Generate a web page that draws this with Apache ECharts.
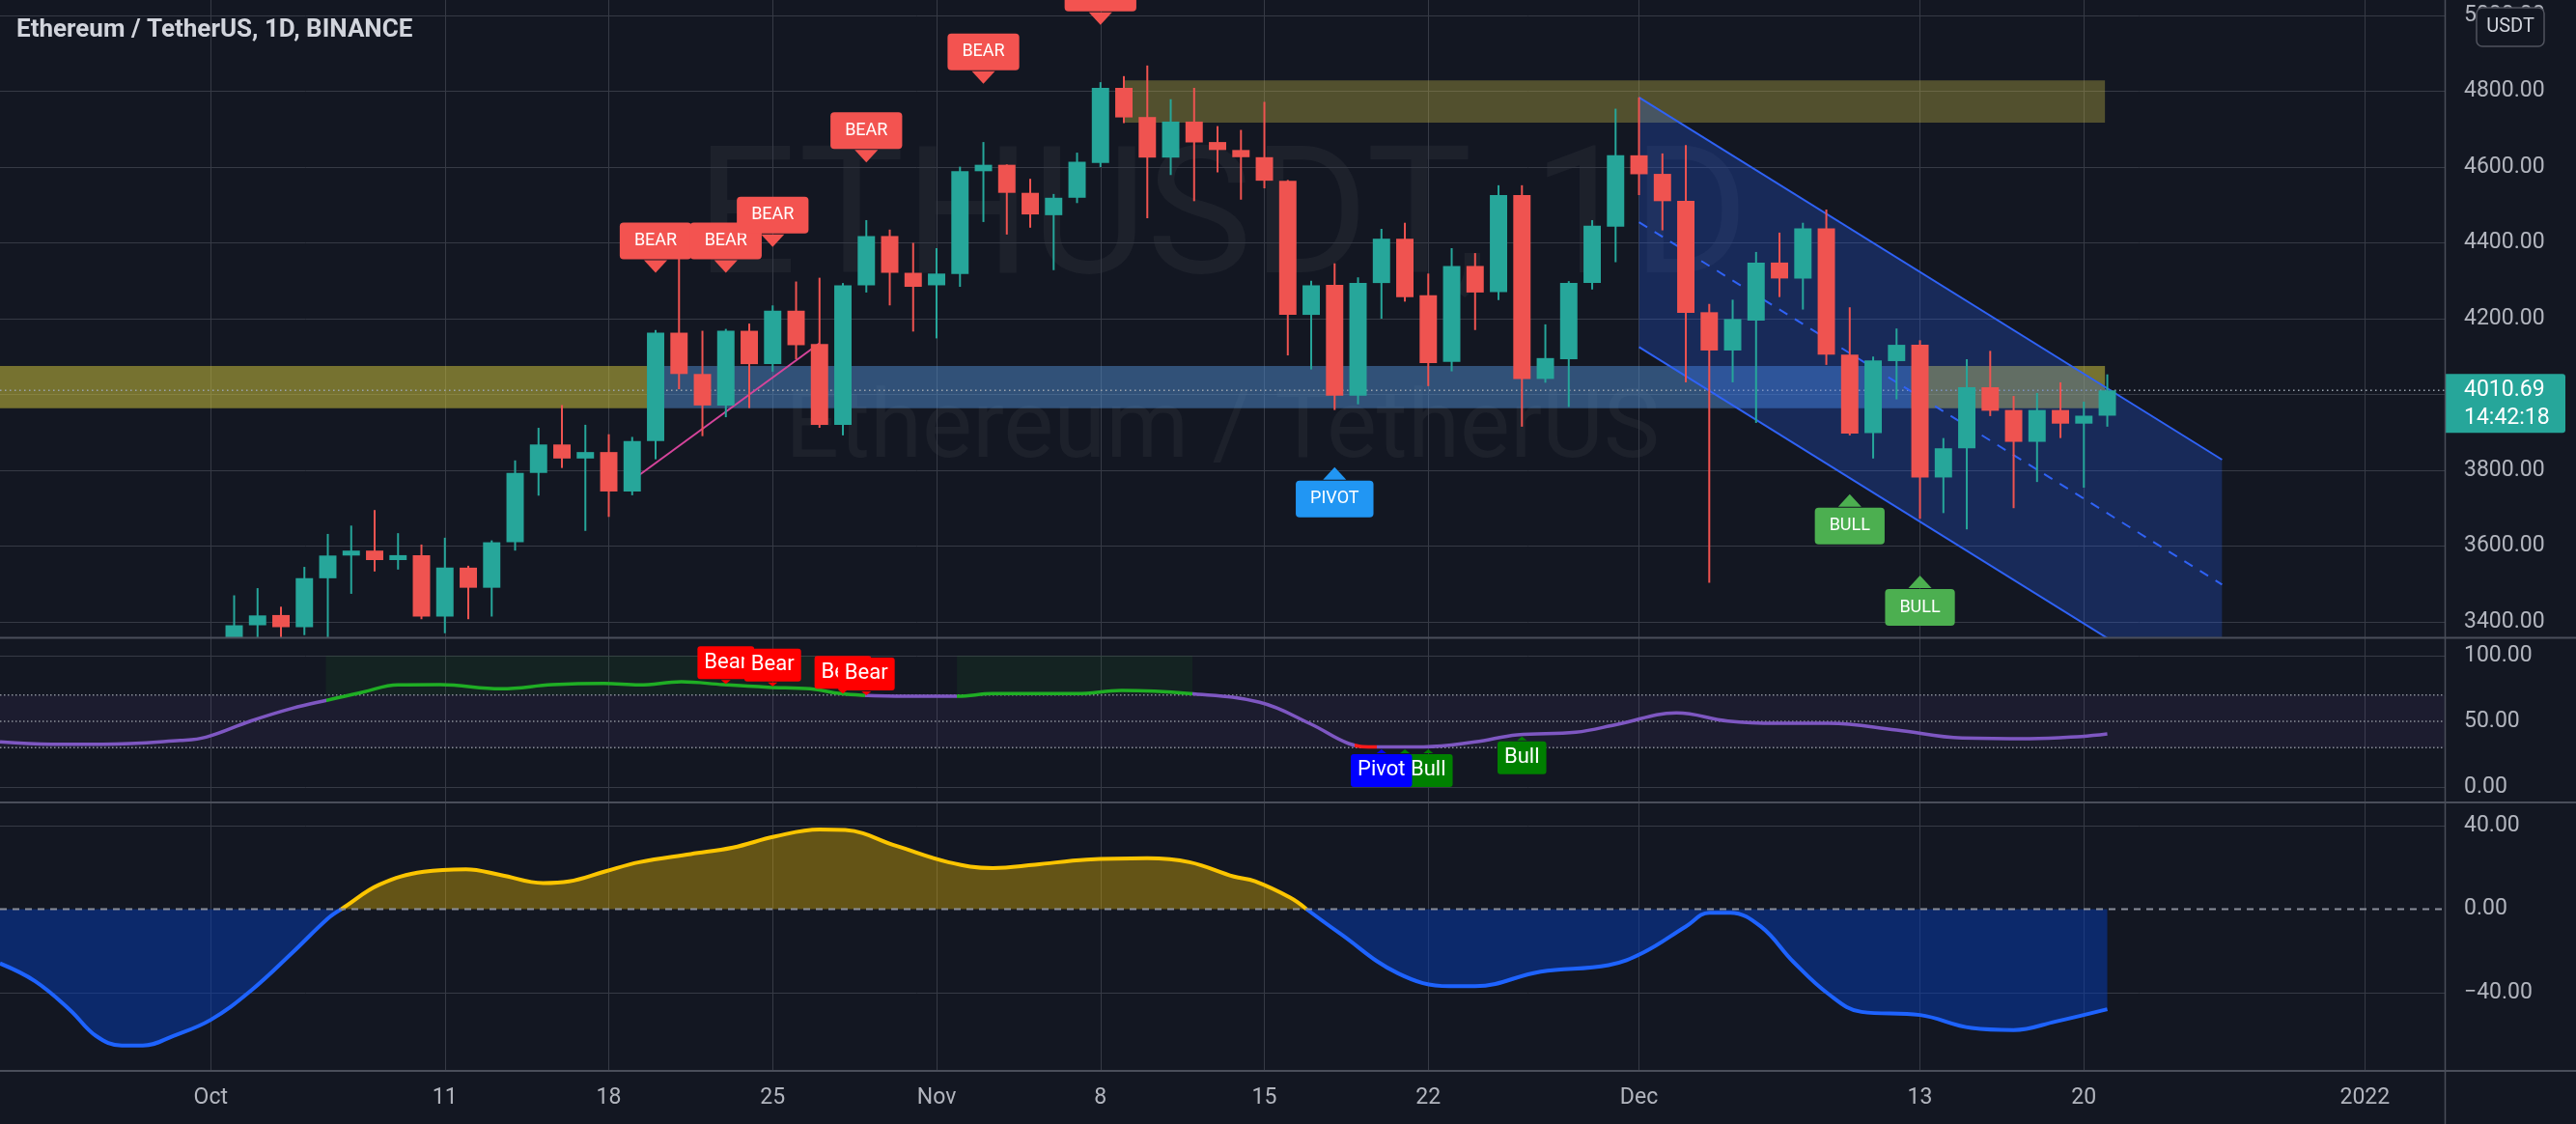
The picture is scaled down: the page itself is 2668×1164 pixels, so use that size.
<!DOCTYPE html>
<html>
<head>
<meta charset="utf-8">
<title>ETHUSDT 1D</title>
<script src="https://cdn.jsdelivr.net/npm/echarts@6.0.0/dist/echarts.min.js"></script>
<style>
html,body{margin:0;padding:0;background:#131722;overflow:hidden;}
#chart{width:2668px;height:1164px;}
</style>
</head>
<body>
<div id="chart"></div>
<script>
// ---------------- DATA (day index 0 = 2021-10-01) ----------------
const firstCandleDay = 1; // 2021-10-02
const opens = [3307,3391,3418,3386,3515,3575,3588,3563,3576,3414,3543,3490,3610,3793,3868,3831,3848,3744,3877,4163,4054,3971,4168,4080,4221,4133,3920,4288,4418,4321,4288,4318,4589,4606,4532,4473,4519,4611,4809,4732,4625,4720,4666,4645,4626,4564,4210,4289,3997,4294,4411,4262,4086,4339,4270,4526,4041,4093,4294,4443,4631,4582,4511,4217,4116,4195,4348,4306,4438,4105,3898,4088,4131,3781,3858,4019,3959,3875,3959,3923,3944];
const closes = [3391,3417,3386,3515,3575,3588,3563,3576,3414,3543,3490,3610,3793,3868,3831,3848,3744,3877,4163,4054,3971,4168,4080,4221,4130,3920,4288,4418,4321,4284,4319,4589,4606,4532,4475,4519,4614,4809,4731,4625,4720,4665,4645,4626,4564,4210,4288,3997,4294,4411,4257,4083,4339,4269,4526,4041,4096,4294,4445,4631,4581,4510,4215,4116,4199,4348,4306,4438,4105,3897,4090,4131,3781,3858,4019,3957,3875,3959,3923,3944,4010.69];
const lows = [3270,3344,3280,3365,3350,3474,3533,3538,3407,3370,3407,3414,3588,3733,3806,3640,3677,3734,3829,4014,3890,3940,3964,4060,4093,3912,3892,4269,4235,4166,4148,4284,4455,4422,4440,4328,4505,4600,4716,4465,4579,4510,4586,4514,4544,4103,4066,3959,3974,4200,4245,4022,4061,4170,4249,3915,4031,3967,4277,4349,4526,4433,4032,3503,4032,3925,4257,4224,4078,3892,3831,3987,3672,3687,3644,3943,3700,3769,3885,3754,3915];
const highs = [3470,3489,3440,3545,3632,3654,3695,3634,3604,3622,3548,3615,3826,3912,3972,3920,3895,3888,4170,4361,4168,4173,4187,4235,4298,4308,4294,4460,4435,4400,4386,4601,4666,4607,4569,4529,4638,4824,4840,4868,4779,4809,4708,4698,4772,4566,4300,4346,4309,4437,4453,4319,4386,4373,4552,4552,4185,4299,4460,4754,4784,4636,4658,4239,4250,4376,4427,4453,4488,4230,4100,4174,4143,3885,4093,4115,3996,4004,4032,3981,4053];
const lastPrice = 4010.69;
const lastPriceText = '4010.69';
const countdownText = '14:42:18';

const dateTickDays   = [0, 10, 17, 24, 31, 38, 45, 52, 61, 73, 80, 92];
const dateTickLabels = ['Oct','11','18','25','Nov','8','15','22','Dec','13','20','2022'];
const priceTicks = [3400, 3600, 3800, 4000, 4200, 4400, 4600, 4800, 5000];
const rsiTicks = [0, 50, 100];
const rsiGridTicks = [0, 100];
const rsiLevels = [30, 50, 70];
const rsiTop = 100;
const oscTicks = [-40, 0, 40];
const oscGridTicks = [-40, 40];

// RSI curve: [day, value]
const rsiDays   = [-9,-6.8,-4.6,-1.3,-0.2,1.7,3.5,5,6.5,8,9.8,12.4,14.6,16.8,18.3,20.1,21.9,23.8,25.6,26.9,27.8,29.7,31.9,33.4,37,38.9,41.8,44.8,47,48.6,49.6,51.8,54,55.8,58.3,60.1,62.6,64.8,66.9,69.1,72,74.8,77.7,79.9,81];
const rsiValues = [34.3,32.6,32.6,35.5,38,50.2,60,66.2,72.3,77.7,77.9,74.8,77.9,78.9,77.7,80.1,77.9,76,74.8,71.1,69.9,69.1,69.1,71.1,71.1,73.5,71.1,64.5,47.8,33.1,30.6,30.6,34.3,39.7,41.7,47.8,56.4,50.2,48.5,48.5,43.4,37.3,36.8,38.5,40.4];
// RSI line colour states: 0 neutral, 1 overbought, 2 oversold
const rsiStateStart = [-100, 4.92, 27.93, 31.87, 41.93, 48.86, 49.81];
const rsiState      = [0, 1, 0, 1, 0, 2, 0];
const rsiObStart = [4.92, 31.87];
const rsiObEnd   = [27.93, 41.93];

// Oscillator curve: [day, value]
const oscDays   = [-9,-7.5,-6,-4.9,-3.8,-2.9,-1.6,0,1.7,3.5,5,5.7,7.2,9.1,10.9,12.4,14.2,15.3,16.8,18.3,20.5,22.3,24.1,26,27.1,29.3,31.5,33.4,35.2,37.4,40,41.8,43.7,44.6,46.1,46.8,48.2,50.7,52.9,54,56.8,59.7,61.2,63,64,64.9,66.2,67.6,69.1,70.5,73,75.2,77,78.8,81];
const oscValues = [-26,-34.5,-48.4,-60.7,-65.3,-65.3,-60.7,-53,-39.2,-20.7,-4.5,0.9,11.7,17.9,19.1,16.3,12.5,13.3,17.9,22.5,26.4,29.5,34.8,38.2,37.9,30.2,22.5,19.7,21.3,23.7,24.4,22.5,15.6,13.3,5.5,0.1,-11.4,-30.7,-36.9,-36.9,-29.9,-26.8,-20.7,-8.3,-1.7,-1.7,-8.3,-25.3,-40.7,-49.2,-50.7,-56.9,-57.9,-53.8,-47.9];
// days where the oscillator crosses zero
const oscCrossDays = [5.58, 46.8];

// Zones
const zoneStart = [-9, 18.63, 72.63, 38.96];
const zoneEnd   = [18.63, 72.63, 80.9, 80.9];
const zoneLow   = [3964, 3964, 3964, 4717];
const zoneHigh  = [4075, 4075, 4075, 4829];
const zoneKind  = ['demand', 'flip', 'demand', 'supply'];

// Descending channel
const channelDays  = [61, 85.9];
const channelUpper = [4784, 3828];
const channelLower = [4125, 3169];

// Pink trend line
const trendDays   = [18, 26];
const trendPrices = [3774, 4135];

// Signal labels (tip positions)
const mainLabelDays   = [19, 22, 24, 28, 33, 38, 48, 70, 73];
const mainLabelPrices = [4321, 4321, 4389, 4612, 4820, 4975, 3808, 3737, 3522];
const mainLabelTexts  = ['BEAR','BEAR','BEAR','BEAR','BEAR','BEAR','PIVOT','BULL','BULL'];
const rsiLabelDays    = [22, 24, 27, 28, 51, 52, 50, 56];
const rsiLabelValues  = [78.5, 76.7, 71.1, 69.9, 28.7, 28.7, 28.7, 38.5];
const rsiLabelTexts   = ['Bear','Bear','Bear','Bear','Bull','Bull','Pivot','Bull'];

// ---------------- STYLE ----------------
const BG = '#131722';
const GRID_COLOR = '#363a45';
const SEP_COLOR = '#4a4e5a';
const AXIS_TEXT = '#b2b5be';
const FONT = 'Roboto, "Noto Sans", sans-serif';
const UP = '#26a69a', DOWN = '#ef5350';
const X_MIN = -9, X_MAX = 95.41;
const ZONE_COLORS = {
  demand: 'rgba(200,190,60,0.55)',
  flip: 'rgba(80,140,205,0.5)',
  supply: 'rgba(200,185,70,0.35)'
};
const STATE_COLORS = ['#7e57c2', '#1fae24', '#ff1a1a'];
const OSC_UP = '#fcc500', OSC_DOWN = '#1e63ff';
const OSC_UP_FILL = 'rgba(252,197,0,0.35)', OSC_DOWN_FILL = 'rgba(5,60,180,0.5)';
const LABEL_STYLE = {
  BEAR:  {bg: '#f35350', dir: 'down'},
  PIVOT: {bg: '#2196f3', dir: 'up'},
  BULL:  {bg: '#4caf50', dir: 'up'},
  Bear:  {bg: '#ff0000', dir: 'down'},
  Bull:  {bg: '#008000', dir: 'up'},
  Pivot: {bg: '#0000ff', dir: 'up'}
};

function fmt(v) { return (v < 0 ? '\u2212' : '') + Math.abs(v).toFixed(2); }

function xAxisCfg(gridIndex, showLabels) {
  return {
    type: 'value', gridIndex: gridIndex, min: X_MIN, max: X_MAX,
    axisLine: {show: false},
    axisTick: {show: false, customValues: dateTickDays},
    splitLine: {show: true, lineStyle: {color: GRID_COLOR, width: 1}},
    axisLabel: showLabels ? {
      show: true, customValues: dateTickDays,
      formatter: function (v) { const i = dateTickDays.indexOf(Math.round(v)); return i >= 0 ? dateTickLabels[i] : ''; },
      color: AXIS_TEXT, fontSize: 23, fontFamily: FONT, margin: 17
    } : {show: false}
  };
}
function yAxisCfg(gridIndex, min, max, labels, grids) {
  return {
    type: 'value', gridIndex: gridIndex, position: 'right', min: min, max: max,
    axisLine: {show: false},
    axisTick: {show: false, customValues: grids},
    splitLine: {show: true, lineStyle: {color: GRID_COLOR, width: 1}},
    axisLabel: {show: true, customValues: labels, formatter: fmt, color: AXIS_TEXT, fontSize: 23, fontFamily: FONT, margin: 20}
  };
}

function makeLabelRenderer(texts, opt) {
  return function (params, api) {
    const text = texts[params.dataIndex];
    const st = LABEL_STYLE[text];
    const tip = api.coord([api.value(0), api.value(1)]);
    const down = st.dir === 'down';
    const edge = down ? tip[1] - opt.ph : tip[1] + opt.ph;
    const over = down ? 1 : -1;
    return {
      type: 'group',
      children: [
        {type: 'polygon', shape: {points: [[tip[0], tip[1]], [tip[0] - opt.pw / 2, edge + over], [tip[0] + opt.pw / 2, edge + over]]}, style: {fill: st.bg}},
        {type: 'text', x: tip[0], y: edge, style: {
          text: text, fill: '#ffffff', font: opt.font,
          align: 'center', textAlign: 'center',
          verticalAlign: down ? 'bottom' : 'top', textVerticalAlign: down ? 'bottom' : 'top',
          backgroundColor: st.bg, padding: opt.padding, borderRadius: opt.radius, lineHeight: opt.lineHeight
        }}
      ]
    };
  };
}

const series = [];
function add(s) { series.push(s); return series.length - 1; }

// zones
add({
  type: 'custom', name: 'zones', xAxisIndex: 0, yAxisIndex: 0, z: 1, clip: true, silent: true,
  data: zoneStart.map(function (s, i) { return [s, zoneEnd[i], zoneLow[i], zoneHigh[i]]; }),
  renderItem: function (params, api) {
    const p1 = api.coord([api.value(0), api.value(3)]);
    const p2 = api.coord([api.value(1), api.value(2)]);
    return {type: 'rect', shape: {x: p1[0], y: p1[1], width: p2[0] - p1[0], height: p2[1] - p1[1]},
      style: {fill: ZONE_COLORS[zoneKind[params.dataIndex]]}};
  }
});
// last price dotted line
add({
  type: 'custom', name: 'priceLine', xAxisIndex: 0, yAxisIndex: 0, z: 1, clip: true, silent: true,
  data: [[X_MIN, lastPrice]],
  renderItem: function (params, api) {
    const cs = params.coordSys;
    const y = api.coord([api.value(0), api.value(1)])[1];
    return {type: 'line', shape: {x1: cs.x, y1: y, x2: cs.x + cs.width, y2: y},
      style: {stroke: '#9aa3ad', lineWidth: 1.5, lineDash: [1.5, 3.5]}};
  }
});
// channel
add({
  type: 'custom', name: 'channel', xAxisIndex: 0, yAxisIndex: 0, z: 2, clip: true, silent: true,
  data: [[channelDays[0], channelDays[1], channelUpper[0], channelUpper[1], channelLower[0], channelLower[1]]],
  renderItem: function (params, api) {
    const d0 = api.value(0), d1 = api.value(1);
    const u0 = api.coord([d0, api.value(2)]), u1 = api.coord([d1, api.value(3)]);
    const l0 = api.coord([d0, api.value(4)]), l1 = api.coord([d1, api.value(5)]);
    const m0 = api.coord([d0, (api.value(2) + api.value(4)) / 2]);
    const m1 = api.coord([d1, (api.value(3) + api.value(5)) / 2]);
    return {type: 'group', children: [
      {type: 'polygon', shape: {points: [u0, u1, l1, l0]}, style: {fill: 'rgba(41,98,255,0.25)'}},
      {type: 'line', shape: {x1: u0[0], y1: u0[1], x2: u1[0], y2: u1[1]}, style: {stroke: '#2f62f5', lineWidth: 2}},
      {type: 'line', shape: {x1: l0[0], y1: l0[1], x2: l1[0], y2: l1[1]}, style: {stroke: '#2f62f5', lineWidth: 2}},
      {type: 'line', shape: {x1: m0[0], y1: m0[1], x2: m1[0], y2: m1[1]}, style: {stroke: '#2f62f5', lineWidth: 2, lineDash: [10, 9]}}
    ]};
  }
});
// pink trend line
add({
  type: 'line', name: 'trend', xAxisIndex: 0, yAxisIndex: 0, z: 2, silent: true,
  data: trendDays.map(function (d, i) { return [d, trendPrices[i]]; }),
  symbol: 'none', lineStyle: {color: '#d6449b', width: 2}
});
// candles (custom so partially visible candles are clipped at the pane edge)
add({
  type: 'custom', name: 'ETHUSDT', xAxisIndex: 0, yAxisIndex: 0, z: 3, clip: true, silent: true,
  data: opens.map(function (o, i) { return [firstCandleDay + i, o, closes[i], lows[i], highs[i]]; }),
  renderItem: function (params, api) {
    const d = api.value(0), o = api.value(1), c = api.value(2);
    const po = api.coord([d, o]), pc = api.coord([d, c]);
    const pl = api.coord([d, api.value(3)]), ph = api.coord([d, api.value(4)]);
    const col = c >= o ? UP : DOWN;
    const bw = api.size([1, 0])[0] * 0.74;
    const top = Math.min(po[1], pc[1]);
    const h = Math.max(Math.abs(po[1] - pc[1]), 2);
    return {type: 'group', children: [
      {type: 'line', shape: {x1: ph[0], y1: ph[1], x2: pl[0], y2: pl[1]}, style: {stroke: col, lineWidth: 2}},
      {type: 'rect', shape: {x: po[0] - bw / 2, y: top, width: bw, height: h}, style: {fill: col}}
    ]};
  }
});
// main labels
add({
  type: 'custom', name: 'signals', xAxisIndex: 0, yAxisIndex: 0, z: 6, clip: false, silent: true,
  data: mainLabelDays.map(function (d, i) { return [d, mainLabelPrices[i]]; }),
  renderItem: makeLabelRenderer(mainLabelTexts, {ph: 14, pw: 24, font: '18px ' + FONT, padding: [10, 15], radius: 4, lineHeight: 18})
});
// price tag on axis
add({
  type: 'custom', name: 'priceTag', xAxisIndex: 0, yAxisIndex: 0, z: 20, clip: false, silent: true,
  data: [[X_MIN, lastPrice]],
  renderItem: function (params, api) {
    const cs = params.coordSys;
    const y = api.coord([api.value(0), api.value(1)])[1];
    const x0 = cs.x + cs.width + 1;
    return {type: 'group', children: [
      {type: 'rect', shape: {x: x0, y: y - 17, width: 124, height: 61, r: [0, 3, 3, 0]}, style: {fill: UP}},
      {type: 'text', x: x0 + 19, y: y, style: {text: lastPriceText, fill: '#ffffff', font: '23px ' + FONT, verticalAlign: 'middle', textVerticalAlign: 'middle'}},
      {type: 'text', x: x0 + 19, y: y + 29, style: {text: countdownText, fill: '#ffffff', font: '23px ' + FONT, verticalAlign: 'middle', textVerticalAlign: 'middle'}}
    ]};
  }
});
// RSI band background
add({
  type: 'custom', name: 'rsiBand', xAxisIndex: 1, yAxisIndex: 1, z: 1, clip: true, silent: true,
  data: [[rsiLevels[0], rsiLevels[2]]],
  renderItem: function (params, api) {
    const cs = params.coordSys;
    const yLo = api.coord([0, api.value(0)])[1], yHi = api.coord([0, api.value(1)])[1];
    return {type: 'rect', shape: {x: cs.x, y: yHi, width: cs.width, height: yLo - yHi}, style: {fill: 'rgba(126,87,194,0.09)'}};
  }
});
// RSI overbought background
add({
  type: 'custom', name: 'rsiOb', xAxisIndex: 1, yAxisIndex: 1, z: 1, clip: true, silent: true,
  data: rsiObStart.map(function (s, i) { return [s, rsiObEnd[i]]; }),
  renderItem: function (params, api) {
    const p1 = api.coord([api.value(0), rsiTop]);
    const p2 = api.coord([api.value(1), rsiLevels[2]]);
    return {type: 'rect', shape: {x: p1[0], y: p1[1], width: p2[0] - p1[0], height: p2[1] - p1[1]}, style: {fill: 'rgba(40,200,40,0.07)'}};
  }
});
// RSI level lines
add({
  type: 'custom', name: 'rsiLevels', xAxisIndex: 1, yAxisIndex: 1, z: 1, clip: true, silent: true,
  data: rsiLevels.map(function (v) { return [0, v]; }),
  renderItem: function (params, api) {
    const cs = params.coordSys;
    const y = api.coord([api.value(0), api.value(1)])[1];
    return {type: 'line', shape: {x1: cs.x, y1: y, x2: cs.x + cs.width, y2: y}, style: {stroke: '#8a8e99', lineWidth: 1.5, lineDash: [1.5, 2.5]}};
  }
});
// RSI line
const rsiIdx = add({
  type: 'line', name: 'RSI', xAxisIndex: 1, yAxisIndex: 1, z: 3, silent: true,
  data: rsiDays.map(function (d, i) { return [d, rsiValues[i]]; }),
  symbol: 'none', smooth: 0.4, lineStyle: {width: 3.5}
});
// RSI labels
add({
  type: 'custom', name: 'rsiSignals', xAxisIndex: 1, yAxisIndex: 1, z: 6, clip: false, silent: true,
  data: rsiLabelDays.map(function (d, i) { return [d, rsiLabelValues[i]]; }),
  renderItem: makeLabelRenderer(rsiLabelTexts, {ph: 5, pw: 10, font: '22px ' + FONT, padding: [6, 7], radius: 3, lineHeight: 22})
});
// Oscillator: split into sign segments at the zero crossings
(function () {
  const bounds = [X_MIN - 1].concat(oscCrossDays, [X_MAX + 1]);
  for (let k = 0; k < bounds.length - 1; k++) {
    const pts = [];
    if (k > 0) pts.push([bounds[k], 0]);
    let sign = 0;
    oscDays.forEach(function (d, i) {
      if (d > bounds[k] && d < bounds[k + 1]) { pts.push([d, oscValues[i]]); if (!sign && oscValues[i] !== 0) sign = oscValues[i] > 0 ? 1 : -1; }
    });
    if (k < bounds.length - 2) pts.push([bounds[k + 1], 0]);
    add({
      type: 'line', name: 'Osc' + k, xAxisIndex: 2, yAxisIndex: 2, z: 3, silent: true,
      data: pts, symbol: 'none', smooth: 0.4,
      lineStyle: {width: 4, color: sign > 0 ? OSC_UP : OSC_DOWN},
      areaStyle: {color: sign > 0 ? OSC_UP_FILL : OSC_DOWN_FILL, opacity: 1}
    });
  }
})();
// Oscillator zero line
add({
  type: 'custom', name: 'oscZero', xAxisIndex: 2, yAxisIndex: 2, z: 4, clip: true, silent: true,
  data: [[0, oscTicks[1]]],
  renderItem: function (params, api) {
    const cs = params.coordSys;
    const y = api.coord([api.value(0), api.value(1)])[1];
    return {type: 'line', shape: {x1: cs.x, y1: y, x2: cs.x + cs.width, y2: y}, style: {stroke: '#8a8e99', lineWidth: 2, lineDash: [7, 6]}};
  }
});

const rsiPieces = rsiStateStart.map(function (s, i) {
  const p = {gte: s, color: STATE_COLORS[rsiState[i]]};
  p.lt = (i + 1 < rsiStateStart.length) ? rsiStateStart[i + 1] : 1000;
  return p;
});

const option = {
  backgroundColor: BG,
  animation: false,
  grid: [
    {left: 0, right: 136, top: 0, height: 660, outerBoundsMode: 'none', containLabel: false},
    {left: 0, right: 136, top: 661, height: 170, outerBoundsMode: 'none', containLabel: false},
    {left: 0, right: 136, top: 831, height: 278, outerBoundsMode: 'none', containLabel: false}
  ],
  xAxis: [xAxisCfg(0, false), xAxisCfg(1, false), xAxisCfg(2, true)],
  yAxis: [
    yAxisCfg(0, 3359.2, 5040.8, priceTicks, priceTicks),
    yAxisCfg(1, -11.76, 113.24, rsiTicks, rsiGridTicks),
    yAxisCfg(2, -77.46, 51.1, oscTicks, oscGridTicks)
  ],
  visualMap: [
    {type: 'piecewise', show: false, seriesIndex: rsiIdx, dimension: 0, pieces: rsiPieces}
  ],
  graphic: [
    {type: 'text', z: -5, silent: true, x: 1266, y: 236, style: {text: 'ETHUSDT, 1D', fill: 'rgba(255,255,255,0.045)', font: '184px ' + FONT, align: 'center', verticalAlign: 'middle', textAlign: 'center', textVerticalAlign: 'middle'}},
    {type: 'text', z: -5, silent: true, x: 1266, y: 448, style: {text: 'Ethereum / TetherUS', fill: 'rgba(255,255,255,0.045)', font: '98px ' + FONT, align: 'center', verticalAlign: 'middle', textAlign: 'center', textVerticalAlign: 'middle'}},
    {type: 'text', z: 50, silent: true, x: 17, y: 31, style: {text: 'Ethereum / TetherUS, 1D, BINANCE', fill: '#d1d4dc', font: 'bold 26px ' + FONT, verticalAlign: 'middle', textVerticalAlign: 'middle'}},
    {type: 'line', z: 60, silent: true, shape: {x1: 0, y1: 660.5, x2: 2668, y2: 660.5}, style: {stroke: SEP_COLOR, lineWidth: 2}},
    {type: 'line', z: 60, silent: true, shape: {x1: 0, y1: 831, x2: 2668, y2: 831}, style: {stroke: SEP_COLOR, lineWidth: 2}},
    {type: 'line', z: 60, silent: true, shape: {x1: 0, y1: 1109, x2: 2668, y2: 1109}, style: {stroke: SEP_COLOR, lineWidth: 2}},
    {type: 'line', z: 60, silent: true, shape: {x1: 2532.5, y1: 0, x2: 2532.5, y2: 1164}, style: {stroke: SEP_COLOR, lineWidth: 1.5}},
    {type: 'rect', z: 70, silent: true, shape: {x: 2565, y: 8, width: 70, height: 40, r: 6}, style: {fill: BG, stroke: '#50535e', lineWidth: 1.5}},
    {type: 'text', z: 71, silent: true, x: 2600, y: 28, style: {text: 'USDT', fill: '#d1d4dc', font: '20px ' + FONT, align: 'center', verticalAlign: 'middle', textAlign: 'center', textVerticalAlign: 'middle'}}
  ],
  series: series
};

const chart = echarts.init(document.getElementById('chart'), null, {renderer: 'canvas', width: 2668, height: 1164});
chart.setOption(option);
</script>
</body>
</html>
